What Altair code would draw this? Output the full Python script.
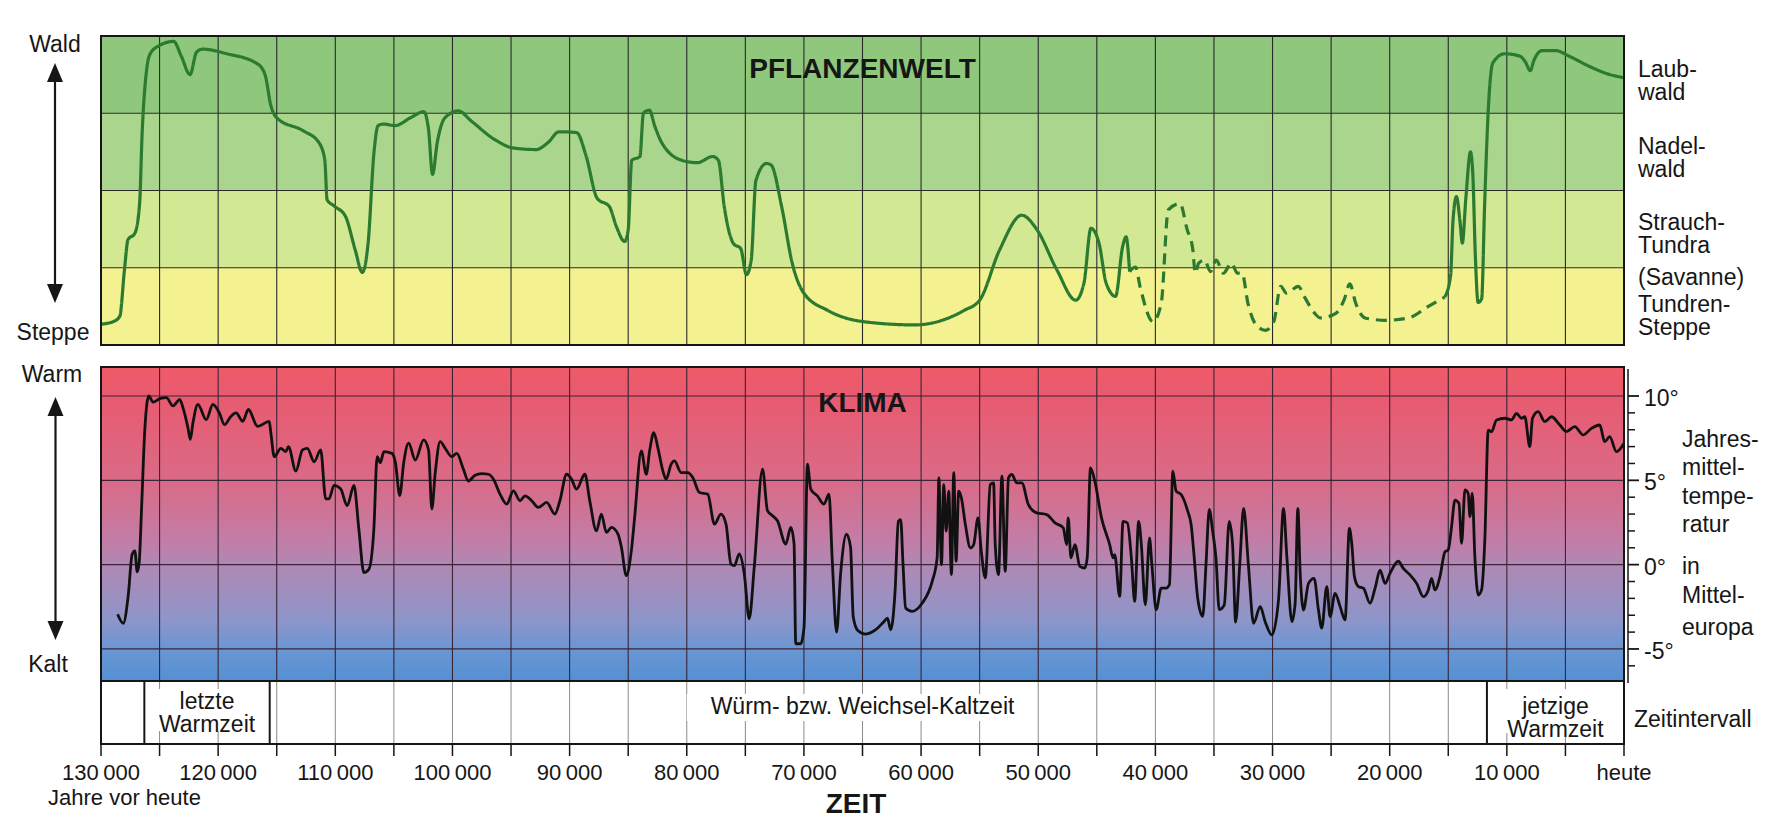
import altair as alt
import pandas as pd

# ---------------- data ----------------
# Vegetation index: 0 = Tundren-Steppe ... 4 = Laubwald
veg_a_years = [130000, 129000, 128400, 128000, 127700, 127100, 126700, 126500, 126100, 125800,
               125100, 123800, 123150, 122400, 121850, 121350, 119250, 116650, 116000, 115500,
               115000, 112700, 111400, 110900, 110700, 110100, 109150, 108300, 107700, 107200,
               106700, 106350, 105900, 104900, 103600, 102450, 102050, 101700, 101300, 100650,
               99500, 98400, 96400, 94800, 92850, 91850, 90900, 89400, 88600, 87650,
               86600, 86000, 85300, 85000, 84700, 84000, 83700, 83200, 82700, 82100,
               80400, 79100, 77800, 77300, 76800, 76000, 75400, 74900, 74500, 74100,
               73200, 72800, 71900, 71000, 70000, 68000, 64800, 60500, 58200, 56300,
               55000, 53300, 51400, 50100, 48400, 46800, 46100, 45500, 44800, 44200,
               43400, 42800, 42500, 42200]
veg_a_vals = [0.27, 0.30, 0.37, 0.97, 1.36, 1.45, 1.84, 2.70, 3.57, 3.77,
              3.87, 3.93, 3.74, 3.50, 3.79, 3.83, 3.77, 3.64, 3.50, 3.10,
              2.94, 2.77, 2.62, 2.40, 1.88, 1.80, 1.67, 1.23, 0.94, 1.32,
              2.49, 2.84, 2.86, 2.84, 2.94, 3.02, 2.80, 2.21, 2.62, 2.94,
              3.03, 2.90, 2.66, 2.55, 2.53, 2.62, 2.76, 2.75, 2.45, 1.90,
              1.79, 1.53, 1.34, 1.49, 2.39, 2.44, 3.00, 3.04, 2.82, 2.61,
              2.39, 2.36, 2.44, 2.39, 1.79, 1.31, 1.25, 0.91, 1.10, 2.13,
              2.35, 2.33, 1.79, 1.06, 0.67, 0.45, 0.30, 0.26, 0.32, 0.45,
              0.58, 1.23, 1.68, 1.49, 0.97, 0.58, 0.80, 1.51, 1.31, 0.80,
              0.63, 1.27, 1.40, 0.95]
veg_dash_years = [42200, 41700, 41300, 40200, 39500, 38900, 37900, 37300, 36800, 36600,
                  36300, 35800, 35300, 34800, 34200, 33500, 33000, 32600, 32100, 31400,
                  30600, 29900, 29300, 28800, 27800, 27300, 26400, 25900, 24600, 23900,
                  23400, 22900, 22100, 20300, 18400, 16700, 15300]
veg_dash_vals = [0.95, 1.01, 0.75, 0.30, 0.54, 1.75, 1.83, 1.50, 1.23, 0.93,
                 1.06, 1.10, 0.95, 1.10, 0.93, 1.06, 0.93, 0.93, 0.54, 0.26,
                 0.19, 0.30, 0.76, 0.67, 0.76, 0.63, 0.41, 0.35, 0.41, 0.58,
                 0.79, 0.54, 0.35, 0.32, 0.35, 0.50, 0.62]
veg_b_years = [15300, 14800, 14600, 14300, 14000, 13800, 13500, 13100, 12900, 12700,
               12450, 12150, 11900, 11600, 11200, 10200, 8900, 8400, 8000, 7700,
               7000, 5800, 4700, 3000, 1400, 0]
veg_b_vals = [0.62, 0.90, 1.60, 1.92, 1.60, 1.32, 1.90, 2.50, 2.20, 1.20,
              0.55, 0.60, 1.80, 3.00, 3.65, 3.77, 3.74, 3.66, 3.55, 3.68,
              3.81, 3.81, 3.74, 3.61, 3.51, 3.46]

# Temperature (deg C), (years before present, value)
temp_eem = [(128580, -2.94), (128100, -3.48), (127680, -1.86), (127340, 0.61), (127110, 0.81),
            (126910, -0.43), (126740, 0.12), (126540, 3.28), (126260, 8.02), (125920, 10.0),
            (125550, 9.64), (124990, 9.84), (124420, 9.90), (123850, 9.41), (123570, 9.6),
            (123290, 9.8), (123000, 9.3), (122580, 8.12), (122380, 7.43), (122150, 8.42),
            (121730, 9.5), (121020, 8.6), (120450, 9.5), (119900, 9.0), (119460, 8.3),
            (118900, 8.8), (118470, 9.0), (117900, 8.5), (117420, 9.2), (116630, 8.2),
            (115640, 8.5), (115500, 7.8)]
temp_early = [(115210, 6.4), (114650, 6.9), (114220, 6.7), (114000, 7.0), (113370, 5.55),
              (112800, 6.8), (112380, 6.9), (111810, 6.1), (111250, 6.8), (110820, 3.9),
              (110540, 3.9), (110110, 4.7), (109550, 4.5), (108980, 3.5), (108410, 4.7),
              (107990, 2.1), (107560, -0.47), (107140, -0.28), (106710, 2.1), (106430, 6.4),
              (106150, 6.05), (105860, 6.7), (105160, 6.6), (104870, 6.05), (104500, 4.1),
              (104160, 6.05), (103740, 7.2), (103170, 6.2), (102460, 7.4), (102040, 6.8),
              (101760, 3.3), (101470, 5.45), (101050, 7.3), (100620, 6.9), (100060, 6.4),
              (99630, 6.6), (99060, 5.65), (98640, 4.96), (98070, 5.3), (97500, 5.4),
              (96930, 5.36), (96500, 5.07), (95940, 4.18), (95370, 3.59), (94800, 4.38),
              (94230, 3.79), (93810, 4.08), (93240, 3.79), (92670, 3.39), (91960, 3.69),
              (91260, 3.0), (90830, 3.79), (90260, 5.36), (89840, 5.07), (89410, 4.48),
              (88700, 5.36), (88280, 3.79), (87710, 2.0), (87290, 3.0), (86860, 1.91),
              (86430, 2.21), (85870, 1.81), (85580, 1.03), (85160, -0.65), (84730, 0.83),
              (84450, 2.80), (83880, 6.75), (83460, 5.36), (83170, 6.75), (82810, 7.83),
              (82470, 6.94), (82040, 5.56), (81760, 5.07), (81330, 5.96), (81050, 6.15),
              (80480, 5.46), (79910, 5.46), (79490, 5.17), (78920, 4.28), (78210, 4.18),
              (77640, 2.40), (77080, 3.0), (76650, 2.4), (76230, 0.04), (75940, -0.06),
              (75520, 0.63), (75090, -0.55), (74670, -3.21), (74240, -0.15), (73530, 5.66),
              (73110, 3.20), (72680, 2.90), (72260, 2.60), (71550, 1.22), (71120, 2.21),
              (70840, 1.22), (70700, -4.69), (70270, -4.69), (69990, -3.7)]
temp_mid = [(69700, 5.96), (69420, 4.48), (68850, 4.08), (68290, 3.59), (67860, 4.18),
            (67580, 0.24), (67210, -4.0), (66870, -0.55), (66360, 1.81), (66020, 1.03),
            (65790, -3.1), (65400, -3.9), (64720, -4.12), (63870, -3.86), (63160, -3.37),
            (62870, -3.17), (62590, -3.86), (62220, -1.58), (61940, 2.57), (61740, 2.67),
            (61540, 0.0), (61320, -2.57), (60750, -2.77), (59900, -2.28), (59050, -0.99),
            (58630, 0.40), (58480, 5.15), (58260, 0.0), (58060, 4.75), (57860, 1.98),
            (57640, 4.36), (57410, -0.59), (57210, 5.45), (57010, 0.20), (56790, 4.36),
            (56560, 3.96), (56220, 2.38), (55790, 0.99), (55510, 1.19), (55140, 2.77),
            (54860, 0.79), (54520, -0.79), (54090, 4.75), (53810, 4.85), (53670, 1.19),
            (53390, -0.59), (53100, 5.25), (52820, -0.40), (52540, 5.15), (52250, 5.35),
            (51830, 4.85), (51400, 4.85), (50840, 3.56), (50130, 3.07), (49280, 2.97),
            (48570, 2.48), (47860, 2.18), (47580, 1.19), (47440, 2.77), (47210, 0.40),
            (46870, 1.19), (46450, -0.10), (46020, -0.20), (45820, 0.40), (45540, 5.74),
            (45170, 4.95), (44600, 2.77), (43900, 1.19), (43610, 0.40), (43470, 0.59),
            (43050, -1.88), (42760, 2.57), (42390, 2.48), (42050, 0.40), (41770, -2.18),
            (41430, 2.57), (41200, 1.19), (40860, -2.38), (40500, 1.58), (40300, 0.0)]
temp_late = [(39930, -2.67), (39500, -1.39), (39080, -1.39), (38800, -1.19), (38510, 5.54),
             (38230, 4.36), (37800, 4.16), (37240, 3.17), (36950, 2.38), (36730, 0.79),
             (36390, -1.98), (35960, -3.07), (35680, 0.0), (35400, 3.27), (35110, 1.98),
             (34830, 0.40), (34550, -2.67), (34120, -2.38), (33700, 2.57), (33410, 1.19),
             (33150, -3.4), (32800, 0.0), (32470, 3.34), (32050, -0.12), (31620, -3.48),
             (31050, -2.49), (30630, -3.38), (30060, -4.17), (29490, -2.09), (29060, 3.34),
             (28780, 0.47), (28350, -3.38), (28070, -2.29), (27840, 3.34), (27640, -0.51),
             (27360, -2.69), (26930, -1.11), (26450, -0.81), (26080, -2.69), (25800, -3.77),
             (25370, -1.3), (25090, -3.08), (24660, -1.7), (24230, -2.49), (23810, -3.28),
             (23440, 2.15), (23240, 1.26), (23010, -0.71), (22670, -1.3), (22240, -1.4),
             (21680, -2.29), (21250, -1.4), (20820, -0.32), (20400, -1.11), (19970, -0.51),
             (19260, 0.20), (18840, -0.22), (18270, -0.61), (17700, -1.11), (17130, -1.90),
             (16700, -1.50), (16420, -0.81), (16140, -1.5), (15710, -0.71), (15280, 0.77),
             (15000, 0.87), (14720, 2.25), (14430, 3.83), (14090, 3.64), (13860, 1.26),
             (13580, 4.43), (13300, 4.23), (13150, 2.85), (12950, 4.23), (12730, 0.47),
             (12440, -1.80), (12160, -1.50), (11880, 1.46)]
temp_holo = [(11590, 7.98), (11310, 7.88), (10880, 8.58), (10170, 8.68), (9600, 8.58),
             (9180, 8.97), (8750, 8.68), (8470, 8.77), (8040, 7.0), (7810, 8.68),
             (7330, 9.07), (6760, 8.48), (6190, 8.77), (5480, 8.28), (4920, 7.89),
             (4200, 8.18), (3490, 7.69), (2780, 8.08), (2070, 8.28), (1650, 7.29),
             (1220, 7.59), (650, 6.70), (0, 7.2)]

grid_years = [125000, 120000, 115000, 110000, 105000, 100000, 95000, 90000, 85000, 80000,
              75000, 70000, 65000, 60000, 55000, 50000, 45000, 40000, 35000, 30000,
              25000, 20000, 15000, 10000, 5000]
tick_years = [130000] + grid_years + [0]
label_years = [130000, 120000, 110000, 100000, 90000, 80000, 70000, 60000, 50000, 40000,
               30000, 20000, 10000, 0]
label_texts = ["130\u2009000", "120\u2009000", "110\u2009000", "100\u2009000", "90\u2009000",
               "80\u2009000", "70\u2009000", "60\u2009000", "50\u2009000", "40\u2009000",
               "30\u2009000", "20\u2009000", "10\u2009000", "heute"]
veg_levels = [1, 2, 3]
veg_band_lo = [0, 1, 2, 3]
veg_band_hi = [1, 2, 3, 4]
veg_band_colors = ["#f3f190", "#d3e893", "#a9d68c", "#8fc77d"]
temp_grid = [10, 5, 0, -5]
temp_ticks = [-6, -4, -3, -2, -1, 1, 2, 3, 4, 6, 7, 8, 9]
temp_labels = ["10°", "5°", "0°", "-5°"]
interval_bounds = [126300, 115600, 11700]

# ---------------- layout ----------------
FONT = "Liberation Sans"
INK = "#161616"
W, H = 1523, 708
VEG_TOP, VEG_BOT = 0, 309
TMP_TOP, TMP_BOT = 331, 645
BAND_TOP, BAND_BOT = 645, 708
TEMP_DOMAIN = [-6.9, 11.72]

XS = alt.Scale(domain=[130000, 0], nice=False, zero=False)
VEG_S = alt.Scale(domain=[0, 4], range=[VEG_BOT, VEG_TOP], nice=False, zero=False)
TMP_S = alt.Scale(domain=TEMP_DOMAIN, range=[TMP_BOT, TMP_TOP], nice=False, zero=False)


def X(f="year:Q"):
    return alt.X(f, scale=XS, axis=None)


def VY(f):
    return alt.Y(f, scale=VEG_S, axis=None)


def TY(f):
    return alt.Y(f, scale=TMP_S, axis=None)


one = pd.DataFrame({"a": [0]})


def ptext(txt, x, y, size=23, weight="normal", align="left", lh=None):
    return alt.Chart(one).mark_text(
        text=txt, font=FONT, fontSize=size, fontWeight=weight, align=align,
        baseline="middle", color=INK, lineBreak="\n", lineHeight=lh or size
    ).encode(x=alt.value(x), y=alt.value(y))


def ytext(txt, year, y, size=23, weight="normal", lh=None):
    return alt.Chart(pd.DataFrame({"year": [year]})).mark_text(
        text=txt, font=FONT, fontSize=size, fontWeight=weight, align="center",
        baseline="middle", color=INK, lineBreak="\n", lineHeight=lh or size
    ).encode(x=X(), y=alt.value(y))


def vrules(y0, y1, color, width):
    return alt.Chart(pd.DataFrame({"year": grid_years})).mark_rule(
        color=color, strokeWidth=width).encode(x=X(), y=alt.value(y0), y2=alt.value(y1))


def border(y0, y1, width=2):
    return alt.Chart(one).mark_rect(fill=None, filled=False, stroke=INK, strokeWidth=width).encode(
        x=alt.value(0), x2=alt.value(W), y=alt.value(y0), y2=alt.value(y1))


# ---------------- vegetation panel ----------------
veg_bg = alt.Chart(pd.DataFrame({"v0": veg_band_lo, "v1": veg_band_hi, "c": veg_band_colors})).mark_rect().encode(
    x=alt.value(0), x2=alt.value(W), y=VY("v0:Q"), y2="v1:Q", color=alt.Color("c:N", scale=None))
veg_h = alt.Chart(pd.DataFrame({"v": veg_levels})).mark_rule(color="#2a2a2a", strokeWidth=1.2).encode(
    x=alt.value(0), x2=alt.value(W), y=VY("v:Q"))
veg_df = pd.concat([
    pd.DataFrame({"year": veg_a_years, "v": veg_a_vals, "seg": "a", "style": "s"}),
    pd.DataFrame({"year": veg_dash_years, "v": veg_dash_vals, "seg": "d", "style": "d"}),
    pd.DataFrame({"year": veg_b_years, "v": veg_b_vals, "seg": "b", "style": "s"}),
])
veg_line = alt.Chart(veg_df).mark_line(color="#2b7a30", strokeWidth=3.2, interpolate="monotone",
                                       strokeCap="butt", strokeJoin="round").encode(
    x=X(), y=VY("v:Q"), detail="seg:N",
    strokeDash=alt.StrokeDash("style:N", scale=alt.Scale(domain=["s", "d"], range=[[1, 0], [11, 7]]), legend=None))
veg_group = alt.layer(veg_bg, veg_h, vrules(VEG_TOP, VEG_BOT, "#2a2a2a", 1.1), veg_line,
                      border(VEG_TOP, VEG_BOT),
                      ytext("PFLANZENWELT", 65000, 34, size=28, weight="bold"))

# ---------------- climate panel ----------------
grad = alt.Gradient(gradient="linear", x1=0, x2=0, y1=0, y2=1, stops=[
    alt.GradientStop(color="#ef5a68", offset=0.0),
    alt.GradientStop(color="#e85b70", offset=0.10),
    alt.GradientStop(color="#da6a87", offset=0.36),
    alt.GradientStop(color="#c47ca4", offset=0.54),
    alt.GradientStop(color="#ae89b6", offset=0.64),
    alt.GradientStop(color="#8f95c9", offset=0.80),
    alt.GradientStop(color="#6a96d3", offset=0.90),
    alt.GradientStop(color="#5590d4", offset=1.0),
])
tmp_bg = alt.Chart(pd.DataFrame({"t0": [TEMP_DOMAIN[0]], "t1": [TEMP_DOMAIN[1]]})).mark_rect(fill=grad).encode(
    x=alt.value(0), x2=alt.value(W), y=TY("t0:Q"), y2="t1:Q")
tmp_h = alt.Chart(pd.DataFrame({"t": temp_grid})).mark_rule(color="#3a2437", strokeWidth=1.2).encode(
    x=alt.value(0), x2=alt.value(W), y=TY("t:Q"))
temp_df = pd.DataFrame(temp_eem + temp_early + temp_mid + temp_late + temp_holo, columns=["year", "t"])
tmp_line = alt.Chart(temp_df).mark_line(color="#111111", strokeWidth=2.8, interpolate="monotone",
                                        strokeJoin="round").encode(x=X(), y=TY("t:Q"))
ax_line = alt.Chart(one).mark_rule(color=INK, strokeWidth=1.5).encode(
    x=alt.value(W + 4), y=alt.value(TMP_TOP + 2), y2=alt.value(TMP_BOT + 2))
ax_minor = alt.Chart(pd.DataFrame({"t": temp_ticks})).mark_rule(color=INK, strokeWidth=1.5).encode(
    x=alt.value(W + 4), x2=alt.value(W + 11), y=TY("t:Q"))
ax_major = alt.Chart(pd.DataFrame({"t": temp_grid})).mark_rule(color=INK, strokeWidth=1.8).encode(
    x=alt.value(W + 4), x2=alt.value(W + 15), y=TY("t:Q"))
ax_labels = alt.Chart(pd.DataFrame({"t": temp_grid, "lab": temp_labels})).mark_text(
    font=FONT, fontSize=23, align="left", baseline="middle", color=INK, dy=3).encode(
    x=alt.value(W + 20), y=TY("t:Q"), text="lab:N")
tmp_group = alt.layer(tmp_bg, tmp_h, vrules(TMP_TOP, TMP_BOT, "#3a2437", 1.1), tmp_line,
                      border(TMP_TOP, TMP_BOT), ax_line, ax_minor, ax_major, ax_labels,
                      ytext("KLIMA", 65000, 368, size=28, weight="bold"))

# ---------------- interval band + time axis ----------------
band_bg = alt.Chart(one).mark_rect(fill="white").encode(
    x=alt.value(0), x2=alt.value(W), y=alt.value(BAND_TOP), y2=alt.value(BAND_BOT))
band_grid = vrules(BAND_TOP, BAND_BOT, "#8a8a8a", 1)
text_boxes = alt.Chart(pd.DataFrame({
    "year": [125400, 80000, 10300], "year2": [116800, 50500, 1500],
    "y0": [BAND_TOP + 8, BAND_TOP + 13, BAND_TOP + 8], "y1": [BAND_TOP + 50, BAND_TOP + 40, BAND_TOP + 52]})
).mark_rect(fill="white").encode(x=X(), x2="year2:Q", y=alt.Y("y0:Q", scale=None, axis=None), y2="y1:Q")
dividers = alt.Chart(pd.DataFrame({"year": interval_bounds})).mark_rule(color=INK, strokeWidth=2).encode(
    x=X(), y=alt.value(BAND_TOP), y2=alt.value(BAND_BOT))
ticks = alt.Chart(pd.DataFrame({"year": tick_years})).mark_rule(color=INK, strokeWidth=1.5).encode(
    x=X(), y=alt.value(BAND_BOT), y2=alt.value(BAND_BOT + 12))
tick_labels = alt.Chart(pd.DataFrame({"year": label_years, "lab": label_texts})).mark_text(
    font=FONT, fontSize=22, align="center", baseline="middle", color=INK).encode(
    x=X(), y=alt.value(737), text="lab:N")
band_group = alt.layer(band_bg, band_grid, text_boxes, dividers, border(BAND_TOP, BAND_BOT), ticks, tick_labels,
                       ytext("letzte\nWarmzeit", 120950, 666),
                       ytext("Würm- bzw. Weichsel-Kaltzeit", 65000, 671),
                       ytext("jetzige\nWarmzeit", 5850, 671))

# ---------------- free labels and arrows ----------------
UP = "M0,-1L0.84,1L-0.84,1Z"
DOWN = "M0,1L0.84,-1L-0.84,-1Z"


def arrow(x, tip_top, tip_bot):
    shaft = alt.Chart(one).mark_rule(color=INK, strokeWidth=2.2).encode(
        x=alt.value(x), y=alt.value(tip_top + 8), y2=alt.value(tip_bot - 8))
    up = alt.Chart(one).mark_point(shape=UP, filled=True, size=361, color=INK, opacity=1, strokeWidth=0).encode(
        x=alt.value(x), y=alt.value(tip_top + 9.5))
    down = alt.Chart(one).mark_point(shape=DOWN, filled=True, size=361, color=INK, opacity=1, strokeWidth=0).encode(
        x=alt.value(x), y=alt.value(tip_bot - 9.5))
    return [shaft, up, down]


deco = [
    ptext("Wald", -46, 9, align="center"),
    ptext("Steppe", -48, 297, align="center"),
    ptext("Warm", -49, 339, align="center"),
    ptext("Kalt", -53, 629, align="center"),
    *arrow(-46, 27, 267),
    *arrow(-45.5, 361, 604),
    ptext("Laub-\nwald", 1537, 34),
    ptext("Nadel-\nwald", 1537, 111),
    ptext("Strauch-\nTundra", 1537, 187),
    ptext("(Savanne)", 1537, 242),
    ptext("Tundren-\nSteppe", 1537, 269),
    ptext("Jahres-", 1581, 404),
    ptext("mittel-", 1581, 432),
    ptext("tempe-", 1581, 461),
    ptext("ratur", 1581, 489),
    ptext("in", 1581, 531),
    ptext("Mittel-", 1581, 560),
    ptext("europa", 1581, 592),
    ptext("Zeitintervall", 1533, 684),
    ptext("Jahre vor heute", -53, 762, size=22),
    ptext("ZEIT", 755, 769, size=28, weight="bold", align="center"),
]

chart = alt.layer(veg_group, tmp_group, band_group, *deco).resolve_scale(y="independent").properties(
    width=W, height=H,
    autosize=alt.AutoSizeParams(type="none"),
    padding={"left": 93, "top": 28, "right": 155, "bottom": 82},
    background="white",
).configure_view(stroke=None)

chart.save("out.html", embed_options={"renderer": "svg", "actions": False})
